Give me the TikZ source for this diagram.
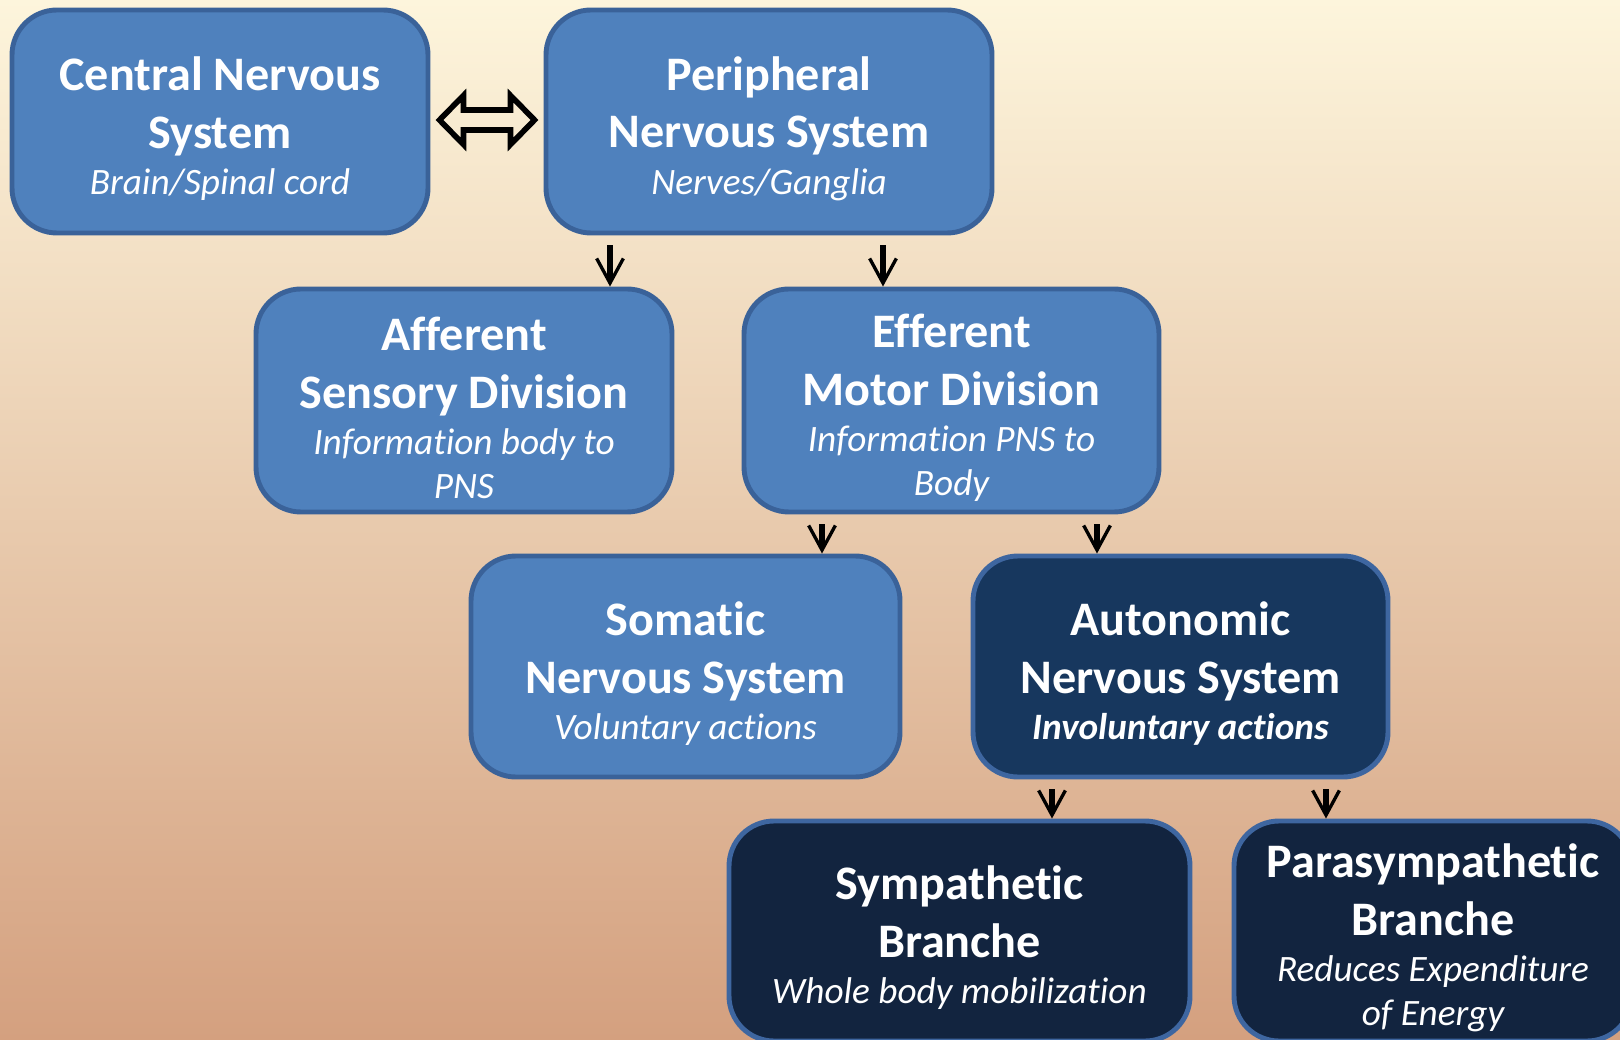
\documentclass[tikz,border=0pt]{standalone}
\usepackage{fontspec}
\setmainfont[Ligatures={NoCommon}]{Carlito}
\usepackage{xcolor}
\usepackage{tikz}
\usetikzlibrary{arrows.meta,calc}

\definecolor{bgtop}{HTML}{FDF5DC}
\definecolor{bgmid}{HTML}{F0D3B5}
\definecolor{bgbot}{HTML}{D4A07F}
\definecolor{lightbox}{HTML}{4F81BD}
\definecolor{lightline}{HTML}{3A6299}
\definecolor{darkbox}{HTML}{17375E}
\definecolor{darkerbox}{HTML}{12243F}
\definecolor{darkline}{HTML}{3E66A0}

\newcommand{\subt}[1]{{\mdseries\itshape\fontsize{10.6}{12.5}\selectfont #1}}
\newcommand{\lift}{\rule{0pt}{13.6pt}}

\begin{document}
\begin{tikzpicture}[
    box/.style={draw=lightline, line width=1.4pt, fill=lightbox, rounded corners=0.45cm,
      minimum width=4.16cm, minimum height=2.23cm, inner sep=0pt, align=center, text=white,
      font=\bfseries\fontsize{13.7}{16.4}\selectfont},
    dark/.style={box, draw=darkline, fill=darkbox},
    darker/.style={box, draw=darkline, fill=darkerbox},
    downarr/.style={line width=1.5pt, -{Straight Barb[length=7pt, width=7.6pt, line width=0.95pt]}}
  ]
    \clip (0,0) rectangle (16.2,-10.4);
    \shade[top color=bgtop, middle color=bgmid, bottom color=bgbot] (0,0) rectangle (16.2,-10.4);

    \node[box] (cns) at (2.20,-1.215) {\lift Central Nervous\\System\\[-3.2pt]\subt{Brain/Spinal cord}};
    \node[box, minimum width=4.46cm] (pns) at (7.69,-1.215) {\lift Peripheral\\Nervous System\\[-3.2pt]\subt{Nerves/Ganglia}};
    \node[box] (aff) at (4.64,-4.005) {\lift Afferent\\Sensory Division\\[-3.2pt]\subt{Information body to}\\[-4pt]\subt{PNS}};
    \node[box, minimum width=4.15cm] (eff) at (9.515,-4.005) {\lift Efferent\\Motor Division\\[-3.2pt]\subt{Information PNS to}\\[-4pt]\subt{Body}};
    \node[box, minimum width=4.29cm, minimum height=2.21cm] (som) at (6.855,-6.665) {\lift Somatic\\Nervous System\\[-3.2pt]\subt{Voluntary actions}};
    \node[dark, minimum width=4.15cm, minimum height=2.21cm] (aut) at (11.805,-6.665) {\lift Autonomic\\Nervous System\\[-3.2pt]{\itshape\fontsize{10.6}{12.5}\selectfont Involuntary actions}};
    \node[darker, minimum width=4.61cm, minimum height=2.2cm] (sym) at (9.595,-9.31) {\lift Sympathetic\\Branche\\[-3.2pt]\subt{Whole body mobilization}};
    \node[darker, minimum width=3.98cm, minimum height=2.2cm] (par) at (14.33,-9.31) {\lift Parasympathetic\\Branche\\[-3.2pt]\subt{Reduces Expenditure}\\[-4pt]\subt{of Energy}};

    % two-way link CNS <-> PNS
    \coordinate (link) at ($(cns.east)!0.5!(pns.west)+(0,0.015)$);
    \draw[line width=1.6pt, line join=miter] (link) ++(-0.475,0) -- ++(0.24,0.245) -- ++(0,-0.145)
      -- ++(0.47,0) -- ++(0,0.145) -- ++(0.24,-0.245) -- ++(-0.24,-0.245) -- ++(0,0.145)
      -- ++(-0.47,0) -- ++(0,-0.145) -- cycle;

    % x positions of the down arrows
    \coordinate (a1) at (6.10,0);
    \coordinate (a2) at (8.83,0);
    \coordinate (a3) at (8.22,0);
    \coordinate (a4) at (10.97,0);
    \coordinate (a5) at (10.52,0);
    \coordinate (a6) at (13.26,0);

    \draw[downarr] ([yshift=-1mm]pns.south -| a1) -- (aff.north -| a1);
    \draw[downarr] ([yshift=-1mm]pns.south -| a2) -- (eff.north -| a2);
    \draw[downarr] ([yshift=-1mm]eff.south -| a3) -- (som.north -| a3);
    \draw[downarr] ([yshift=-1mm]eff.south -| a4) -- (aut.north -| a4);
    \draw[downarr] ([yshift=-1mm]aut.south -| a5) -- (sym.north -| a5);
    \draw[downarr] ([yshift=-1mm]aut.south -| a6) -- (par.north -| a6);
\end{tikzpicture}
\end{document}
